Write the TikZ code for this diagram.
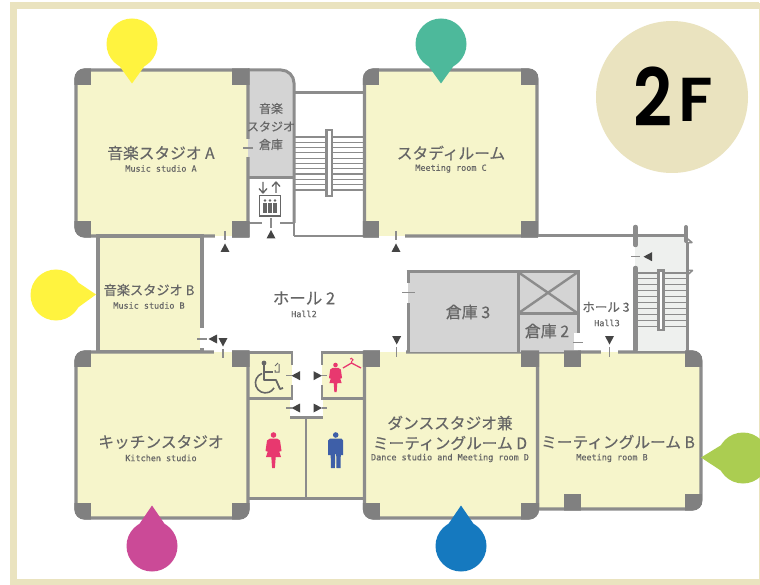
\documentclass[tikz,border=0pt]{standalone}
\usepackage{fontspec}
\setmainfont{Noto Sans CJK JP}[FakeBold=0.35]
\newfontfamily\monof{DejaVu Sans Mono}[Scale=0.9,FakeBold=0.3]
\newfontfamily\boldf{Poppins}[BoldFont=Poppins SemiBold]
\definecolor{wall}{HTML}{8C8C8C}
\definecolor{post}{HTML}{808080}
\definecolor{room}{HTML}{F6F5CB}
\definecolor{store}{HTML}{D4D4D4}
\definecolor{stair}{HTML}{EEF0EE}
\definecolor{frameb}{HTML}{EAE3BF}
\definecolor{txt}{HTML}{666666}
\definecolor{tri}{HTML}{444444}
\definecolor{pink}{HTML}{E8386F}
\definecolor{manb}{HTML}{3E5FA8}
\definecolor{pinY}{HTML}{FFF33F}
\definecolor{pinT}{HTML}{4DB99B}
\definecolor{pinM}{HTML}{CB4A97}
\definecolor{pinB}{HTML}{1579BF}
\definecolor{pinG}{HTML}{ABCD51}
\tikzset{
 x=1pt,y=-1pt,
 rm/.style={fill=room,draw=wall,line width=3.2pt},
 ja/.style={text=txt,font=\fontsize{15.7}{18}\selectfont,inner sep=0pt,align=center},
 en/.style={text=txt,font=\monof\fontsize{9.4}{11}\selectfont,inner sep=0pt},
 dsh/.style={draw=wall,line width=1.4pt},
}
\newcommand{\tup}[2]{\fill[tri] (#1-4.5,#2+4)--(#1+4.5,#2+4)--(#1,#2-4.5)--cycle;}
\newcommand{\tdn}[2]{\fill[tri] (#1-4.5,#2-4)--(#1+4.5,#2-4)--(#1,#2+4.5)--cycle;}
\newcommand{\tlf}[2]{\fill[tri] (#1+4,#2-4.5)--(#1+4,#2+4.5)--(#1-4.5,#2)--cycle;}
\newcommand{\trt}[2]{\fill[tri] (#1-4,#2-4.5)--(#1-4,#2+4.5)--(#1+4.5,#2)--cycle;}
\newcommand{\pst}[4]{\fill[post] (#1,#2) rectangle (#3,#4);}
% room with per-corner radii: x1 y1 x2 y2 TL TR BR BL
\newcommand{\rpth}[8]{(#1,{0.5*(#2+#4)}) [rounded corners=#5pt] -- (#1,#2) [rounded corners=#6pt] -- (#3,#2) [rounded corners=#7pt] -- (#3,#4) [rounded corners=#8pt] -- (#1,#4) [sharp corners] -- cycle}
\newcommand{\lady}[3]{\begin{scope}[shift={(#1,#2)},scale=#3]
 \fill[pink] (0,-14) circle (2.8);
 \fill[pink,line join=round] (-3.5,-10.5) -- (3.5,-10.5) -- (6.5,-8.5) -- (8,2) -- (6,2.5) -- (4,-3) -- (7.5,8) -- (2.2,8) -- (1.4,19) -- (-1.4,19) -- (-2.2,8) -- (-7.5,8) -- (-4,-3) -- (-6,2.5) -- (-8,2) -- (-6.5,-8.5) -- cycle;
 \end{scope}}
\begin{document}
\begin{tikzpicture}
\useasboundingbox (0,0) rectangle (760,585);
\fill[white] (0,0) rectangle (760,585);
% frame
\draw[frameb,line width=7pt] (13,6) -- (759,6);
\draw[frameb,line width=7pt] (13,2.5) -- (13,582) -- (759,582);
\draw[frameb,line width=1pt] (759.5,3) -- (759.5,585);
% badge
\fill[frameb] (672,97) circle (76);
\node[inner sep=0pt,text=black,font=\boldf\bfseries\fontsize{80}{80}\selectfont,xscale=.85,transform shape] (fl) at (653.5,97) {2};
\node[inner sep=0pt,text=black,font=\boldf\bfseries\fontsize{62}{62}\selectfont,xscale=1.05,transform shape] (flf) at (696,100) {F};
% stair hall upper
\draw[wall,line width=3pt] (294,92.5) -- (364,92.5);
\draw[wall,line width=1.2pt] (294,236) -- (364,236);
\foreach \y in {137,142.3,...,191} {\draw[wall,line width=1.2pt] (294,\y) -- (364,\y);}
\draw[wall,line width=2.4pt,fill=white] (326.5,130) rectangle (332,196);
% store by A
\fill[store] (248,70) [rounded corners=13pt] -- (294,70) [sharp corners] -- (294,177.5) -- (248,177.5) -- cycle;
\draw[wall,line width=3pt] (248,70) [rounded corners=13pt] -- (294,70) [sharp corners] -- (294,223);
\draw[wall,line width=1.2pt] (294,223) -- (294,236);
\draw[wall,line width=2.4pt] (248,177.5) -- (294,177.5);
\draw[wall,line width=2.4pt] (248,223) -- (262,223) (280,223) -- (294,223);
% lower rooms: toilets
\fill[room] (248,352) rectangle (364,499);
\fill[white] (291.5,350) rectangle (321.5,417);
\fill[white] (290,399) rectangle (323,417);
\draw[wall,line width=2.4pt] (248,352.5) -- (291.7,352.5) -- (291.7,365) (291.7,385) -- (291.7,398.5) -- (248,398.5);
\draw[wall,line width=2.4pt] (364,352.5) -- (321.7,352.5) -- (321.7,365) (321.7,385) -- (321.7,398.5) -- (364,398.5);
\draw[wall,line width=3pt] (290,417.7) -- (323,417.7);
\draw[wall,line width=2.4pt] (306,417) -- (306,498.5);
\draw[wall,line width=2.4pt] (248,498.5) -- (364,498.5);
% rooms
\draw[rm] \rpth{76}{70}{248}{236}{9}{0.01}{0.01}{9};
\draw[rm] (98,236) rectangle (202,352);
\draw[rm] \rpth{364.5}{70}{537}{236}{9}{9}{0.01}{0.01};
\draw[rm] \rpth{76}{352}{248}{518}{9}{0.01}{9}{9};
\draw[rm] \rpth{537.5}{352}{701}{509}{0.01}{9}{9}{0.01};
\draw[rm] \rpth{364.5}{352}{537.5}{518}{0.01}{0.01}{9}{9};
% door gap in room B right wall
\fill[white] (202,328) rectangle (203.7,348);
\fill[white] (198,328) rectangle (202,348);
\fill[room] (198,328) rectangle (200.4,348);
% door in A right wall
\fill[room] (246.4,139) rectangle (248,157);
\fill[store] (248,139) rectangle (249.6,157);
% gap in A bottom
\fill[room] (215,234.4) rectangle (232,236);
\fill[white] (215,236) rectangle (232,238);
% gap in kitchen top
\fill[white] (214,350.4) rectangle (232,352);
\fill[room] (214,352) rectangle (232,353.6);
% C door
\fill[room] (379,234.4) rectangle (405,236);
\fill[white] (379,236) rectangle (405,237.6);
% gap in dance top
\fill[white] (380,350.4) rectangle (406,352);
\fill[room] (380,352) rectangle (406,353.6);
% hall wall right of C
\draw[wall,line width=3pt] (537,235.8) -- (634,235.8);
% storage block
\fill[store] (408,272) rectangle (578,352);
\fill[white] (574,333) rectangle (580,350.4);
\draw[wall,line width=3pt] (406.5,272) -- (578,272) -- (578,333);
\draw[wall,line width=3pt] (408,272) -- (408,283) (408,303) -- (408,352);
\draw[wall,line width=3pt] (518,272) -- (518,352) (518,313.5) -- (578,313.5);
\draw[wall,line width=2.4pt] (518,272) -- (578,313.5) (578,272) -- (518,313.5);
% stair right
\fill[stair] (635,236) rectangle (687,351);
\foreach \y in {273,278.9,...,327} {\draw[wall,line width=1.2pt] (638,\y) -- (686,\y);}
\draw[wall,line width=2.4pt,fill=white] (658.5,270.5) rectangle (663.5,330);
\draw[wall,line width=3pt] (635,235.8) -- (686,235.8);
\draw[wall,line width=4.5pt,line cap=round] (635.5,227) -- (635.5,245) (635.5,268) -- (635.5,350);
\draw[wall,line width=2.6pt] (687.5,242) -- (687.5,352);
\draw[wall,line width=4pt,line cap=round] (686,227) -- (686,241);
\draw[wall,line width=1.5pt,line join=round] (686,237.5) -- (692,242.5) -- (686,243);
\draw[wall,line width=1.5pt,line join=round] (686,270.5) -- (692.5,270.5) -- (687,275.5);
% lower wall gap hall3
\fill[white] (600.6,350.4) rectangle (618,352);
\fill[room] (600.6,352) rectangle (618,353.6);
% posts A
\begin{scope}\clip \rpth{74.4}{68.4}{249.6}{237.6}{10}{0.01}{0.01}{10};
\pst{74}{68}{91}{85}\pst{232}{68}{249.6}{85}\pst{74}{221}{91}{238}\pst{232}{221}{249.6}{238}\end{scope}
% posts C
\begin{scope}\clip \rpth{362.9}{68.4}{538.6}{237.6}{10}{10}{0.01}{0.01};
\pst{362}{68}{379}{85}\pst{521}{68}{539}{85}\pst{362}{221}{379}{238}\pst{521}{221}{539}{238}\end{scope}
% posts kitchen
\begin{scope}\clip \rpth{74.4}{350.4}{249.6}{519.6}{10}{0.01}{10}{10};
\pst{74}{350}{91}{367}\pst{232}{350}{250}{367}\pst{74}{503}{91}{520}\pst{232}{503}{250}{520}\end{scope}
% posts dance
\begin{scope}\clip \rpth{362.9}{350.4}{539.1}{519.6}{0.01}{0.01}{10}{10};
\pst{362}{350}{380}{367}\pst{521}{350}{540}{367}\pst{362}{503}{380}{520}\pst{521}{503}{540}{520}\end{scope}
% posts mtg B
\begin{scope}\clip \rpth{535.9}{350.4}{702.6}{510.6}{0.01}{10}{10}{0.01};
\pst{564}{350}{581}{367}\pst{685}{350}{703}{367}\pst{564}{494}{581}{511}\pst{685}{494}{703}{511}\end{scope}
% pins
\fill[pinY] (132,44) circle (25.5); \fill[pinY] (118,64)--(146,64)--(132,83.5)--cycle;
\fill[pinT] (441,44) circle (25.5); \fill[pinT] (427,64)--(455,64)--(441,83.5)--cycle;
\fill[pinY] (56,295) circle (25.5); \fill[pinY] (76,281)--(76,309)--(96,294.5)--cycle;
\fill[pinM] (152,546) circle (25.5); \fill[pinM] (138,526)--(166,526)--(152,505.5)--cycle;
\fill[pinB] (461,546) circle (25.5); \fill[pinB] (447,526)--(475,526)--(461,505.5)--cycle;
\fill[pinG] (743,458) circle (25.5); \fill[pinG] (723,444)--(723,472)--(701,457.5)--cycle;
% texts
\node[ja] (ta) at (161,153) {音楽スタジオ A};
\node[en] (tae) at (161,168.5) {Music studio A};
\node[ja,font=\fontsize{12}{18}\selectfont] (ts) at (271,126.5) {音楽\\スタジオ\\倉庫};
\node[ja] (tc) at (451,153) {スタディルーム};
\node[en] (tce) at (451,168.5) {Meeting room C};
\node[ja,font=\fontsize{13.2}{18}\selectfont] (tb) at (149,290) {音楽スタジオ B};
\node[en] (tbe) at (149,305.5) {Music studio B};
\node[ja,font=\fontsize{16.5}{18}\selectfont] (th2) at (304,298) {ホール 2};
\node[en] (th2e) at (304,314) {Hall2};
\node[ja,font=\fontsize{16}{18}\selectfont] (t3) at (468,312) {倉庫 3};
\node[ja,font=\fontsize{16}{18}\selectfont] (t2) at (547,331) {倉庫 2};
\node[ja,font=\fontsize{12.5}{16}\selectfont] (th3) at (606,307) {ホール 3};
\node[en] (th3e) at (607,323) {Hall3};
\node[ja] (tk) at (161,442) {キッチンスタジオ};
\node[en] (tke) at (161,458) {Kitchen studio};
\node[ja,font=\fontsize{15.7}{20}\selectfont] (td) at (450,433) {ダンススタジオ兼\\ミーティングルーム D};
\node[en] (tde) at (450,458) {Dance studio and Meeting room D};
\node[ja] (tm) at (618,442) {ミーティングルーム B};
\node[en] (tme) at (612,458) {Meeting room B};
% door marks
\draw[dsh] (243,148) -- (253,148);
\draw[dsh] (402,292.5) -- (415,292.5);
\draw[dsh] (573,342.5) -- (583,342.5);
\tup{225}{248} \draw[dsh] (225,231) -- (225,240);
\tup{271}{234.5} \draw[dsh] (271,218) -- (271,228);
\tup{396}{248} \draw[dsh] (396,231) -- (396,240);
\tdn{396.7}{340} \draw[dsh] (396.7,347) -- (396.7,357);
\tdn{609.5}{340} \draw[dsh] (609.5,347) -- (609.5,357);
\tlf{213}{339} \draw[dsh] (197,339) -- (207,339);
\tdn{223}{342} \draw[dsh] (223,349) -- (223,358);
\tlf{296}{375.7} \draw[dsh] (286,375.7) -- (291.5,375.7);
\trt{317.5}{375.7} \draw[dsh] (322,375.7) -- (327,375.7);
\tlf{296}{408} \draw[dsh] (286,408) -- (291.5,408);
\trt{317.5}{408} \draw[dsh] (322,408) -- (327,408);
\tlf{648}{256.7} \draw[dsh] (631,256.7) -- (640,256.7);
% lift
\draw[txt,line width=1.3pt,line join=round] (263,182) -- (263,193) (259,188.5) -- (263,193) -- (267,188.5);
\draw[txt,line width=1.3pt,line join=round] (276,193) -- (276,182) (272,186.5) -- (276,182) -- (280,186.5);
\draw[txt,line width=1.8pt,fill=white] (259.5,195.5) rectangle (280.5,216);
\foreach \x in {265,270,275} {\fill[txt] (\x,200.5) circle (1.3); \fill[txt] (\x-1.7,203) rectangle (\x+1.7,213);}
% wheelchair
\fill[txt] (264,363) circle (2.4);
\draw[txt,line width=1.8pt,line join=round] (264,365) -- (264,380) -- (276,380) -- (280,389) -- (283,388);
\draw[txt,line width=1.8pt] (264,372) -- (273,372);
\draw[txt,line width=1.6pt] (262,373.5) arc[start angle=250,end angle=30,radius=10];
\draw[txt,line width=1pt] (275,370) -- (275,372) -- (279,372) -- (279,364) (275,366) -- (278,363);
% persons
\lady{273.5}{449}{1}
\lady{335.5}{376.5}{0.82}
\draw[pink,line width=1.3pt,line join=round] (343,368) -- (351.5,363) -- (361,368);
\draw[pink,line width=1pt] (351.5,363) -- (351.5,361.5) arc[start angle=90,end angle=-150,radius=1.6];
% man
\fill[manb] (335.7,435) circle (2.8);
\fill[manb] (330,438.7) -- (341.5,438.7) -- (343.2,440.5) -- (343.2,455) -- (341,455) -- (341,445) -- (340.5,468) -- (336.5,468) -- (336.2,454) -- (335.2,454) -- (334.9,468) -- (331,468) -- (330.4,445) -- (330.4,455) -- (328.2,455) -- (328.2,440.5) -- cycle;
\end{tikzpicture}
\end{document}
